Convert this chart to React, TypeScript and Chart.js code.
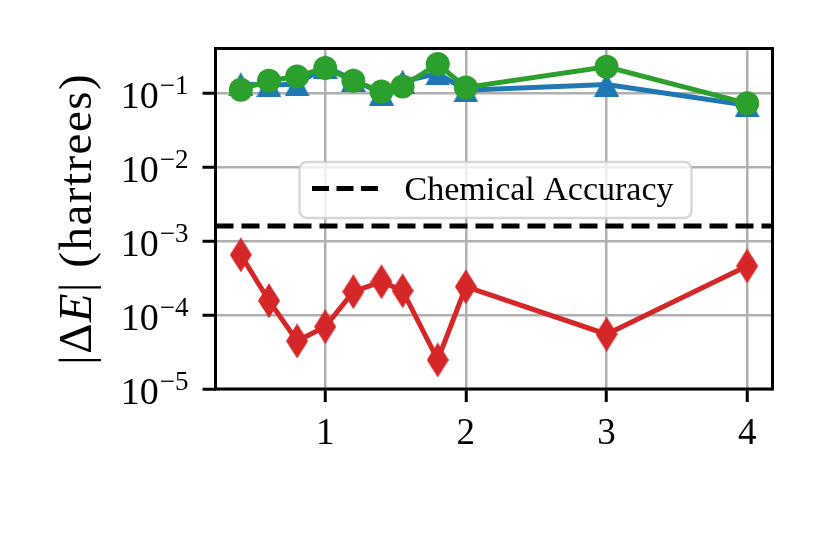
import React, { useRef, useEffect } from 'react'
import { Chart, registerables } from 'chart.js'

Chart.register(...registerables)

// bond length values on the x axis
const BOND = [0.4, 0.6, 0.8, 1.0, 1.2, 1.4, 1.55, 1.8, 2.0, 3.0, 4.0]
// |dE| for the three methods (hartrees)
const BLUE_ERR = [0.132, 0.128, 0.131, 0.228, 0.151, 0.0985, 0.143, 0.184, 0.109, 0.13, 0.0684]
const GREEN_ERR = [0.111, 0.147, 0.168, 0.218, 0.147, 0.105, 0.123, 0.247, 0.119, 0.226, 0.0726]
const RED_ERR = [6.5e-4, 1.56e-4, 4.46e-5, 6.95e-5, 2.07e-4, 2.82e-4, 2.13e-4, 2.47e-5, 2.41e-4, 5.5e-5, 4.6e-4]

const CHEM_ACC = 0.0016
const LEGEND_LABEL = 'Chemical Accuracy'

const X_TICKS = [1, 2, 3, 4]
const Y_TICKS = [1e-5, 1e-4, 1e-3, 1e-2, 1e-1]
const X_MIN = 0.22
const X_MAX = 4.18
const Y_MIN = 1e-5
const Y_MAX = 0.4

const SERIF = '"Liberation Serif", "DejaVu Serif", serif'
const BLUE = '#1f77b4'
const GREEN = '#2ca02c'
const RED = '#d62728'
const DASH = [18, 8]

const toPoints = (ys: number[]) => ys.map((y, i) => ({ x: BOND[i], y }))

function triangleMarker(color: string, w: number, h: number) {
  const c = document.createElement('canvas')
  c.width = w
  c.height = h
  const ctx = c.getContext('2d')!
  ctx.fillStyle = color
  ctx.beginPath()
  ctx.moveTo(w / 2, 0)
  ctx.lineTo(w, h)
  ctx.lineTo(0, h)
  ctx.closePath()
  ctx.fill()
  return c
}

function diamondMarker(color: string, w: number, h: number) {
  const c = document.createElement('canvas')
  c.width = w
  c.height = h
  const ctx = c.getContext('2d')!
  ctx.fillStyle = color
  ctx.beginPath()
  ctx.moveTo(w / 2, 0)
  ctx.lineTo(w, h / 2)
  ctx.lineTo(w / 2, h)
  ctx.lineTo(0, h / 2)
  ctx.closePath()
  ctx.fill()
  return c
}

// horizontal chemical-accuracy line + legend box
const chemAccPlugin = {
  id: 'chemAcc',
  afterDatasetsDraw(chart: any) {
    const { ctx, chartArea, scales } = chart
    const py = scales.y.getPixelForValue(CHEM_ACC)
    ctx.save()
    ctx.strokeStyle = '#000'
    ctx.lineWidth = 5
    ctx.setLineDash(DASH)
    ctx.beginPath()
    ctx.moveTo(chartArea.left, py)
    ctx.lineTo(chartArea.right, py)
    ctx.stroke()

    // legend
    const lx = chartArea.left + 84
    const ly = chartArea.top + 113.5
    ctx.setLineDash([])
    ctx.fillStyle = 'rgba(255,255,255,0.8)'
    ctx.strokeStyle = 'rgba(204,204,204,0.8)'
    ctx.lineWidth = 2.5
    ctx.beginPath()
    ctx.roundRect(lx, ly, 392, 56, 7)
    ctx.fill()
    ctx.stroke()
    ctx.strokeStyle = '#000'
    ctx.lineWidth = 5
    ctx.setLineDash([17, 7.5])
    ctx.beginPath()
    ctx.moveTo(lx + 12.5, ly + 26.5)
    ctx.lineTo(lx + 79, ly + 26.5)
    ctx.stroke()
    ctx.fillStyle = '#000'
    ctx.font = `34px ${SERIF}`
    ctx.textBaseline = 'alphabetic'
    ctx.fillText(LEGEND_LABEL, lx + 105, ly + 38)
    ctx.restore()
  },
}

// frame, log tick labels and y title
const decorPlugin = {
  id: 'decor',
  afterDraw(chart: any) {
    const { ctx, chartArea, scales } = chart
    const y = scales.y
    ctx.save()
    ctx.strokeStyle = '#000'
    ctx.lineWidth = 3
    ctx.strokeRect(chartArea.left, chartArea.top, chartArea.right - chartArea.left, chartArea.bottom - chartArea.top)

    ctx.fillStyle = '#000'
    ctx.textBaseline = 'alphabetic'
    ctx.textAlign = 'left'
    const right = chartArea.left - 27
    Y_TICKS.forEach((v) => {
      const py = y.getPixelForValue(v)
      const exp = '\u2212' + Math.abs(Math.round(Math.log10(v)))
      ctx.font = `27px ${SERIF}`
      const ew = ctx.measureText(exp).width
      ctx.font = `38px ${SERIF}`
      const bw = ctx.measureText('10').width
      const bx = right - ew - bw - 1
      ctx.fillText('10', bx, py + 14.5)
      ctx.font = `27px ${SERIF}`
      ctx.fillText(exp, bx + bw + 1, py + 0.5)
    })

    // |ΔE| (hartrees)
    const parts = [
      { t: '|\u0394', f: `47px ${SERIF}` },
      { t: 'E', f: `italic 47px ${SERIF}` },
      { t: '| (hartrees)', f: `47px ${SERIF}` },
    ]
    ctx.translate(91, (chartArea.top + chartArea.bottom) / 2)
    ctx.rotate(-Math.PI / 2)
    ;(ctx as any).letterSpacing = '1.5px'
    let total = 0
    const widths = parts.map((p) => {
      ctx.font = p.f
      const w = ctx.measureText(p.t).width
      total += w
      return w
    })
    let x = -total / 2
    parts.forEach((p, i) => {
      ctx.font = p.f
      ctx.fillText(p.t, x, 0)
      x += widths[i]
    })
    ctx.restore()
  },
}

export default function App() {
  const chartRef = useRef<HTMLCanvasElement>(null)

  useEffect(() => {
    document.body.style.margin = '0'
    if (!chartRef.current) return
    const ctx = chartRef.current.getContext('2d')
    if (!ctx) return

    const chart = new Chart(ctx, {
      type: 'line',
      data: {
        datasets: [
          {
            label: 'green',
            data: toPoints(GREEN_ERR),
            borderColor: GREEN,
            backgroundColor: GREEN,
            borderWidth: 5,
            pointStyle: 'circle',
            pointRadius: 12,
            pointBorderWidth: 0,
            pointBackgroundColor: GREEN,
            order: 0,
          },
          {
            label: 'blue',
            data: toPoints(BLUE_ERR),
            borderColor: BLUE,
            backgroundColor: BLUE,
            borderWidth: 5,
            pointStyle: triangleMarker(BLUE, 25, 24),
            pointRadius: 12,
            order: 1,
          },
          {
            label: 'red',
            data: toPoints(RED_ERR),
            borderColor: RED,
            backgroundColor: RED,
            borderWidth: 5,
            pointStyle: diamondMarker(RED, 22, 35),
            pointRadius: 12,
            order: 2,
          },
        ],
      },
      options: {
        responsive: false,
        animation: false,
        layout: { padding: { left: 0, right: 49.5, top: 48.5, bottom: 0 } },
        plugins: {
          legend: { display: false },
          tooltip: { enabled: false },
        },
        scales: {
          x: {
            type: 'linear',
            min: X_MIN,
            max: X_MAX,
            afterBuildTicks: (scale: any) => {
              scale.ticks = X_TICKS.map((value) => ({ value }))
            },
            afterFit: (scale: any) => {
              scale.height = 154
            },
            grid: {
              color: '#b0b0b0',
              lineWidth: 2.5,
              tickColor: '#000',
              tickWidth: 3,
              tickLength: 13,
            },
            border: { display: false },
            ticks: {
              color: '#000',
              font: { family: SERIF, size: 37 },
              padding: 10,
              maxRotation: 0,
              callback: (v: any) => String(v),
            },
          },
          y: {
            type: 'logarithmic',
            min: Y_MIN,
            max: Y_MAX,
            afterBuildTicks: (scale: any) => {
              scale.ticks = Y_TICKS.map((value) => ({ value }))
            },
            afterFit: (scale: any) => {
              scale.width = 215.5
            },
            grid: {
              color: '#b0b0b0',
              lineWidth: 2.5,
              tickColor: '#000',
              tickWidth: 3,
              tickLength: 13,
            },
            border: { display: false },
            ticks: { display: false },
          },
        },
      },
      plugins: [chemAccPlugin, decorPlugin],
    })

    return () => {
      chart.destroy()
    }
  }, [])

  return (
    <div style={{ width: 822, height: 543 }}>
      <canvas ref={chartRef} width={822} height={543}></canvas>
    </div>
  )
}
